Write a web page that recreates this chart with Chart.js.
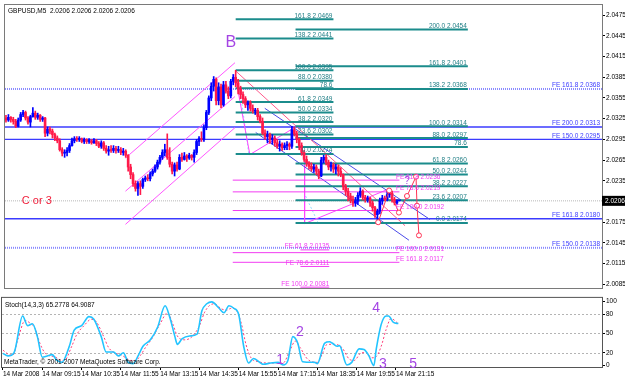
<!DOCTYPE html>
<html>
<head>
<meta charset="utf-8">
<script src="https://cdn.jsdelivr.net/npm/chart.js@4.4.1/dist/chart.umd.min.js"></script>
<style>
  html, body { margin: 0; padding: 0; background: #fff; }
  #wrap { position: relative; width: 625px; height: 380px; overflow: hidden; }
  canvas { position: absolute; left: 0; }
  #price { top: 0; }
  #stoch { top: 293px; }
</style>
</head>
<body>
<div id="wrap">
  <canvas id="price" width="625" height="293"></canvas>
  <canvas id="stoch" width="625" height="87"></canvas>
</div>
<script>
// GBPUSD M5 candles, one entry per bar
const barOpen = [
  2.0326, 2.0323, 2.0327, 2.0324, 2.0321, 2.0314, 2.0323, 2.0331, 2.0334, 2.0326,
  2.0320, 2.0328, 2.0333, 2.0327, 2.0330, 2.0324, 2.0326, 2.0304, 2.0310, 2.0307,
  2.0302, 2.0297, 2.0293, 2.0280, 2.0275, 2.0276, 2.0279, 2.0286, 2.0293, 2.0296,
  2.0295, 2.0296, 2.0292, 2.0295, 2.0292, 2.0293, 2.0290, 2.0293, 2.0289, 2.0285,
  2.0290, 2.0282, 2.0278, 2.0280, 2.0279, 2.0282, 2.0279, 2.0280, 2.0276, 2.0278,
  2.0272, 2.0255, 2.0244, 2.0231, 2.0224, 2.0231, 2.0227, 2.0237, 2.0239, 2.0238,
  2.0245, 2.0249, 2.0255, 2.0262, 2.0269, 2.0276, 2.0280, 2.0269, 2.0259, 2.0249,
  2.0258, 2.0252, 2.0269, 2.0266, 2.0271, 2.0268, 2.0272, 2.0269, 2.0276, 2.0292,
  2.0296, 2.0295, 2.0312, 2.0334, 2.0355, 2.0372, 2.0382, 2.0351, 2.0371, 2.0345,
  2.0374, 2.0365, 2.0358, 2.0379, 2.0385, 2.0377, 2.0368, 2.0360, 2.0354, 2.0345,
  2.0348, 2.0340, 2.0336, 2.0337, 2.0328, 2.0321, 2.0304, 2.0299, 2.0302, 2.0295,
  2.0297, 2.0290, 2.0285, 2.0288, 2.0283, 2.0286, 2.0288, 2.0285, 2.0309, 2.0303,
  2.0295, 2.0286, 2.0276, 2.0266, 2.0261, 2.0256, 2.0252, 2.0255, 2.0249, 2.0242,
  2.0265, 2.0269, 2.0262, 2.0255, 2.0258, 2.0252, 2.0255, 2.0249, 2.0244, 2.0227,
  2.0220, 2.0213, 2.0208, 2.0203, 2.0206, 2.0214, 2.0220, 2.0211, 2.0208, 2.0210,
  2.0203, 2.0196, 2.0186, 2.0191, 2.0206, 2.0210, 2.0208, 2.0215, 2.0217, 2.0208,
  2.0203, 2.0206
];
const barHigh = [
  2.0330, 2.0331, 2.0328, 2.0327, 2.0324, 2.0326, 2.0334, 2.0337, 2.0336, 2.0328,
  2.0330, 2.0341, 2.0336, 2.0333, 2.0331, 2.0328, 2.0327, 2.0313, 2.0313, 2.0310,
  2.0304, 2.0300, 2.0296, 2.0283, 2.0280, 2.0283, 2.0289, 2.0297, 2.0299, 2.0299,
  2.0299, 2.0297, 2.0297, 2.0296, 2.0296, 2.0295, 2.0296, 2.0295, 2.0292, 2.0293,
  2.0292, 2.0286, 2.0285, 2.0286, 2.0286, 2.0285, 2.0285, 2.0283, 2.0282, 2.0280,
  2.0273, 2.0259, 2.0247, 2.0235, 2.0234, 2.0235, 2.0239, 2.0242, 2.0244, 2.0248,
  2.0252, 2.0258, 2.0265, 2.0272, 2.0280, 2.0288, 2.0303, 2.0283, 2.0262, 2.0261,
  2.0262, 2.0273, 2.0275, 2.0276, 2.0273, 2.0275, 2.0273, 2.0280, 2.0295, 2.0299,
  2.0306, 2.0316, 2.0337, 2.0358, 2.0377, 2.0386, 2.0384, 2.0377, 2.0375, 2.0379,
  2.0379, 2.0371, 2.0382, 2.0389, 2.0395, 2.0382, 2.0372, 2.0364, 2.0357, 2.0351,
  2.0351, 2.0345, 2.0340, 2.0340, 2.0331, 2.0326, 2.0309, 2.0307, 2.0304, 2.0302,
  2.0300, 2.0295, 2.0293, 2.0290, 2.0290, 2.0292, 2.0290, 2.0314, 2.0313, 2.0307,
  2.0297, 2.0290, 2.0279, 2.0271, 2.0263, 2.0261, 2.0259, 2.0258, 2.0252, 2.0269,
  2.0272, 2.0273, 2.0265, 2.0262, 2.0261, 2.0259, 2.0258, 2.0254, 2.0245, 2.0230,
  2.0224, 2.0217, 2.0213, 2.0211, 2.0218, 2.0225, 2.0222, 2.0214, 2.0213, 2.0211,
  2.0206, 2.0198, 2.0194, 2.0210, 2.0214, 2.0213, 2.0220, 2.0221, 2.0220, 2.0211,
  2.0208, 2.0206
];
const barLow = [
  2.0320, 2.0321, 2.0320, 2.0317, 2.0312, 2.0313, 2.0321, 2.0328, 2.0323, 2.0317,
  2.0313, 2.0327, 2.0324, 2.0324, 2.0321, 2.0321, 2.0299, 2.0300, 2.0303, 2.0297,
  2.0293, 2.0290, 2.0278, 2.0271, 2.0269, 2.0271, 2.0276, 2.0285, 2.0290, 2.0292,
  2.0292, 2.0290, 2.0289, 2.0289, 2.0289, 2.0288, 2.0289, 2.0286, 2.0283, 2.0282,
  2.0279, 2.0275, 2.0272, 2.0276, 2.0276, 2.0275, 2.0276, 2.0273, 2.0272, 2.0269,
  2.0249, 2.0238, 2.0227, 2.0220, 2.0214, 2.0215, 2.0224, 2.0234, 2.0235, 2.0235,
  2.0242, 2.0247, 2.0252, 2.0259, 2.0266, 2.0271, 2.0266, 2.0255, 2.0245, 2.0242,
  2.0249, 2.0251, 2.0263, 2.0265, 2.0263, 2.0266, 2.0265, 2.0262, 2.0273, 2.0286,
  2.0292, 2.0292, 2.0309, 2.0331, 2.0351, 2.0365, 2.0345, 2.0345, 2.0341, 2.0343,
  2.0362, 2.0354, 2.0355, 2.0374, 2.0371, 2.0361, 2.0354, 2.0347, 2.0341, 2.0337,
  2.0336, 2.0333, 2.0331, 2.0323, 2.0319, 2.0302, 2.0295, 2.0290, 2.0289, 2.0288,
  2.0285, 2.0282, 2.0278, 2.0279, 2.0280, 2.0280, 2.0280, 2.0282, 2.0300, 2.0290,
  2.0280, 2.0272, 2.0263, 2.0256, 2.0252, 2.0249, 2.0247, 2.0244, 2.0238, 2.0241,
  2.0261, 2.0258, 2.0251, 2.0249, 2.0247, 2.0245, 2.0242, 2.0241, 2.0222, 2.0214,
  2.0206, 2.0203, 2.0198, 2.0198, 2.0201, 2.0211, 2.0207, 2.0204, 2.0204, 2.0198,
  2.0191, 2.0182, 2.0174, 2.0187, 2.0201, 2.0206, 2.0206, 2.0211, 2.0204, 2.0200,
  2.0201, 2.0206
];
const barClose = [
  2.0323, 2.0327, 2.0324, 2.0321, 2.0314, 2.0323, 2.0331, 2.0334, 2.0326, 2.0320,
  2.0328, 2.0333, 2.0327, 2.0330, 2.0324, 2.0326, 2.0304, 2.0310, 2.0307, 2.0302,
  2.0297, 2.0293, 2.0280, 2.0275, 2.0276, 2.0279, 2.0286, 2.0293, 2.0296, 2.0295,
  2.0296, 2.0292, 2.0295, 2.0292, 2.0293, 2.0290, 2.0293, 2.0289, 2.0285, 2.0290,
  2.0282, 2.0278, 2.0280, 2.0279, 2.0282, 2.0279, 2.0280, 2.0276, 2.0278, 2.0272,
  2.0255, 2.0244, 2.0231, 2.0224, 2.0231, 2.0227, 2.0237, 2.0239, 2.0238, 2.0245,
  2.0249, 2.0255, 2.0262, 2.0269, 2.0276, 2.0280, 2.0269, 2.0259, 2.0249, 2.0258,
  2.0252, 2.0269, 2.0266, 2.0271, 2.0268, 2.0272, 2.0269, 2.0276, 2.0292, 2.0296,
  2.0295, 2.0312, 2.0334, 2.0355, 2.0372, 2.0382, 2.0351, 2.0371, 2.0345, 2.0374,
  2.0365, 2.0358, 2.0379, 2.0385, 2.0377, 2.0368, 2.0360, 2.0354, 2.0345, 2.0348,
  2.0340, 2.0336, 2.0337, 2.0328, 2.0321, 2.0304, 2.0299, 2.0302, 2.0295, 2.0297,
  2.0290, 2.0285, 2.0288, 2.0283, 2.0286, 2.0288, 2.0285, 2.0309, 2.0303, 2.0295,
  2.0286, 2.0276, 2.0266, 2.0261, 2.0256, 2.0252, 2.0255, 2.0249, 2.0242, 2.0265,
  2.0269, 2.0262, 2.0255, 2.0258, 2.0252, 2.0255, 2.0249, 2.0244, 2.0227, 2.0220,
  2.0213, 2.0208, 2.0203, 2.0206, 2.0214, 2.0220, 2.0211, 2.0208, 2.0210, 2.0203,
  2.0196, 2.0186, 2.0191, 2.0206, 2.0210, 2.0208, 2.0215, 2.0217, 2.0208, 2.0203,
  2.0206, 2.0206
];
const bidPrice = 2.0206;

// axis ticks
const priceTicks = [2.0085, 2.0115, 2.0145, 2.0175, 2.0205, 2.0235, 2.0265, 2.0295,
  2.0325, 2.0355, 2.0385, 2.0415, 2.0445, 2.0475];
const timeTickBars = [0, 16, 32, 48, 64, 80, 96, 112, 128, 144, 160];
const timeLabels = ['14 Mar 2008', '14 Mar 09:15', '14 Mar 10:35', '14 Mar 11:55', '14 Mar 13:15',
  '14 Mar 14:35', '14 Mar 15:55', '14 Mar 17:15', '14 Mar 18:35', '14 Mar 19:55', '14 Mar 21:15'];
const stochTicks = [0, 20, 50, 80, 100];

// Stochastic(14,3,3)
const stochMainBars = [0, 2, 4.5, 8, 10, 12, 14, 16, 18, 20, 22, 24, 27, 29, 32, 35, 37, 40, 42, 45,
  47, 49, 51, 53, 55, 57, 60, 63, 66, 68, 70, 71, 73, 76, 79, 81, 83, 85, 88, 90,
  92, 94, 96, 98, 100, 102, 106, 109, 112, 114, 116, 118, 120, 122, 127, 128, 131, 133, 134, 136,
  137, 140, 142, 145, 147, 149, 151, 152, 154, 156, 157, 159, 161];
const stochMain = [19, 15, 20, 77, 62, 65, 45, 13, 15, 17, 8, 5, 30, 55, 62, 76, 72, 45, 21, 21,
  15, 20, 5, 3, 15, 30, 40, 60, 93, 74, 45, 33, 42, 46, 49, 85, 96, 99, 89, 82,
  93, 89, 79, 30, 4, 11, 2, 4, 5, 1, 8, 45, 35, 6, 5, 3, 35, 37, 35, 30,
  31, 1, 5, 26, 25, 15, 0, 26, 64, 77, 77, 67, 65.2778];
const stochSignalBars = [0, 2, 4, 6, 9, 11, 13, 15, 17, 19, 21, 23, 25, 28, 30, 33, 36, 38, 41, 43,
  46, 48, 50, 52, 54, 56, 58, 61, 64, 67, 69, 71, 74, 77, 80, 82, 84, 86, 89, 91,
  93, 95, 97, 99, 101, 104, 108, 111, 114, 117, 119, 121, 124, 128, 130, 132, 135, 138, 141, 143,
  146, 148, 150, 152, 154, 156, 158, 161];
const stochSignal = [24, 18, 16, 40, 70, 66, 58, 35, 20, 15, 14, 9, 8, 30, 48, 62, 72, 68, 45, 28,
  19, 17, 12, 8, 8, 16, 28, 44, 65, 82, 66, 46, 40, 45, 62, 82, 93, 96, 88, 86,
  89, 86, 66, 32, 12, 6, 4, 4, 4, 25, 38, 28, 10, 5, 18, 33, 33, 28, 10, 8,
  20, 20, 12, 14, 30, 56, 73, 64.9087];

// Fibonacci retracements (teal)
const fibALabels = ['161.8 2.0469', '138.2 2.0441', '100.0 2.0395', '88.0 2.0380', '78.6',
  '61.8 2.0349', '50.0 2.0334', '38.2 2.0320', '23.6 2.0302', '0.0 2.0274'];
const fibAPrices = [2.0469, 2.0441, 2.0395, 2.0380, 2.0369, 2.0349, 2.0334, 2.0320, 2.0302, 2.0274];
const fibABars = [94, 134];
const fibBLabels = ['200.0 2.0454', '161.8 2.0401', '138.2 2.0368', '100.0 2.0314', '88.0 2.0297',
  '78.6', '61.8 2.0260', '50.0 2.0244', '38.2 2.0227', '23.6 2.0207', '0.0 2.0174'];
const fibBPrices = [2.0454, 2.0401, 2.0368, 2.0314, 2.0297, 2.0284, 2.0260, 2.0244, 2.0227, 2.0207, 2.0174];
const fibBBars = [118.5, 189];

// Fibonacci expansions
const feBlueLabels = ['FE 161.8 2.0368', 'FE 200.0 2.0313', 'FE 150.0 2.0295', 'FE 161.8 2.0180', 'FE 150.0 2.0138'];
const feBluePrices = [2.0368, 2.0313, 2.0295, 2.0180, 2.0138];
const feMagLabels = ['FE 61.8 2.0236', 'FE 78.6 2.0219', 'FE 100.0 2.0192', 'FE 100.0 2.0131', 'FE 161.8 2.0117'];
const feMagPrices = [2.0236, 2.0219, 2.0192, 2.0131, 2.0117];
const feMagBars = [92.8, 161, 159.6];
const feShortLabels = ['FE 61.8 2.0135', 'FE 78.6 2.0111', 'FE 100.0 2.0081'];
const feShortPrices = [2.0135, 2.0111, 2.0081];
const feShortBars = [120.5, 132.3];

// trend lines [bar1, price1, bar2, price2]
const risingChannel = [[48.9, 2.0268, 93.7, 2.0406], [48.9, 2.0220, 93.7, 2.0357], [48.9, 2.0172, 93.7, 2.0312]];
const fallingPink = [93.7, 2.0395, 163.3, 2.0170];
const fallingBlue = [[105.9, 2.0340, 173.5, 2.0179], [102.2, 2.0305, 164.9, 2.0149]];
const feLegBars = [93.7, 99.8, 118.5];
const feLegPrices = [2.0389, 2.0273, 2.0313];
const feLeg2Bars = [122.2, 122.2, 157.2];
const feLeg2Prices = [2.0266, 2.0173, 2.0224];
const arcLines = [[96.1, 2.0358, 99.4, 2.0273], [122.6, 2.0213, 127.9, 2.0173]];
const pathBars = [152.3, 156.8, 160.8, 164.1, 167.8, 168.2, 169.0];
const pathPrices = [2.0175, 2.0221, 2.0189, 2.0213, 2.0241, 2.0199, 2.0156];

// wave marks
const waveTexts = ['1', '2', '4', '3', '5'];
const waveBars = [112.8, 120.9, 151.9, 154.7, 167];
const waveValues = [8, 52, 89, 2, 2];

const xMin = -0.4, xMax = 243.9;
const FONT = '"Liberation Sans", Arial, sans-serif';
const BULL = '#0000ff', BEAR = '#ff1a4a';
const TEAL = '#1b8c8c', BLUE = '#3b3bff', MAGENTA = '#f23cf2', PURPLE = '#a444e4';

function pts(bars, vals) { return bars.map((b, i) => ({ x: b, y: vals[i] })); }
function seg(s) { return [{ x: s[0], y: s[1] }, { x: s[2], y: s[3] }]; }
function lineDs(data, color, width, dash, order) {
  return { type: 'line', data, borderColor: color, borderWidth: width, borderDash: dash || [],
    pointRadius: 0, fill: false, tension: 0, order: order };
}
function txt(ctx, s, x, y, color, size, align, base) {
  ctx.font = size + 'px ' + FONT;
  ctx.fillStyle = color;
  ctx.textAlign = align || 'left';
  ctx.textBaseline = base || 'alphabetic';
  ctx.fillText(s, x, y);
}

const datasets = [];
datasets.push({
  type: 'line', data: pts(pathBars, pathPrices), borderColor: '#ff3355', borderWidth: 1,
  pointRadius: 2.5, pointBorderColor: '#ff3355', pointBackgroundColor: '#ffffff', tension: 0, order: 0
});
datasets.push({
  type: 'bar', data: barClose.map((c, i) => ({ x: i, y: [barOpen[i], c] })),
  backgroundColor: barClose.map((c, i) => (c >= barOpen[i] ? BULL : BEAR)),
  barThickness: 2, minBarLength: 1, grouped: false, order: 1
});
datasets.push({
  type: 'bar', data: barClose.map((c, i) => ({ x: i, y: [barLow[i], barHigh[i]] })),
  backgroundColor: barClose.map((c, i) => (c >= barOpen[i] ? BULL : BEAR)),
  barThickness: 1, grouped: false, order: 2
});
fibAPrices.forEach(p => datasets.push(lineDs([{ x: fibABars[0], y: p }, { x: fibABars[1], y: p }], TEAL, 2, [], 3)));
fibBPrices.forEach(p => datasets.push(lineDs([{ x: fibBBars[0], y: p }, { x: fibBBars[1], y: p }], TEAL, 2, [], 3)));
feMagPrices.forEach(p => datasets.push(lineDs([{ x: feMagBars[0], y: p }, { x: feMagBars[1], y: p }], MAGENTA, 1, [], 3)));
feShortPrices.forEach(p => datasets.push(lineDs([{ x: feShortBars[0], y: p }, { x: feShortBars[1], y: p }], MAGENTA, 1, [], 3)));
risingChannel.forEach(s => datasets.push(lineDs(seg(s), '#ff55ff', 1, [], 3)));
datasets.push(lineDs(seg(fallingPink), '#ff5a8c', 1, [], 3));
fallingBlue.forEach(s => datasets.push(lineDs(seg(s), '#4a4ae8', 1, [], 3)));
datasets.push(lineDs(pts(feLegBars, feLegPrices), '#ff44ff', 1, [], 3));
datasets.push(lineDs(pts(feLeg2Bars, feLeg2Prices), '#ff44ff', 1, [], 3));
arcLines.forEach(s => datasets.push(lineDs(seg(s), '#8fdcff', 1, [2, 2], 3)));
feBluePrices.forEach((p, k) => datasets.push(lineDs([{ x: xMin, y: p }, { x: xMax, y: p }],
  (k === 0 || k === 4) ? '#8a8aff' : BLUE, (k === 0 || k === 4) ? 2 : 1.4, (k === 0 || k === 4) ? [1, 1] : [], 4)));
datasets.push(lineDs([{ x: xMin, y: bidPrice }, { x: xMax, y: bidPrice }], '#b8b8b8', 1, [1, 1], 4));

const priceDecor = {
  id: 'priceDecor',
  afterDatasetsDraw(chart) {
    const { ctx, chartArea: a } = chart;
    const xs = chart.scales.x, ys = chart.scales.y;
    ctx.save();
    ctx.beginPath();
    ctx.rect(a.left, a.top, a.right - a.left, a.bottom - a.top);
    ctx.clip();
    fibALabels.forEach((s, k) => txt(ctx, s, xs.getPixelForValue(fibABars[1]) - 1, ys.getPixelForValue(fibAPrices[k]) - 1.5, '#217f86', 6.5, 'right'));
    fibBLabels.forEach((s, k) => txt(ctx, s, xs.getPixelForValue(fibBBars[1]) - 1, ys.getPixelForValue(fibBPrices[k]) - 1.5, '#217f86', 6.5, 'right'));
    feBlueLabels.forEach((s, k) => txt(ctx, s, a.right - 2, ys.getPixelForValue(feBluePrices[k]) - 1.5, BLUE, 6.5, 'right'));
    feMagLabels.forEach((s, k) => txt(ctx, s, xs.getPixelForValue(feMagBars[2]), ys.getPixelForValue(feMagPrices[k]) - 1.5, MAGENTA, 6.5, 'left'));
    feShortLabels.forEach((s, k) => txt(ctx, s, xs.getPixelForValue(feShortBars[1]), Math.min(ys.getPixelForValue(feShortPrices[k]) - 1.5, a.bottom - 1), MAGENTA, 6.5, 'right'));
    txt(ctx, 'B', xs.getPixelForValue(92), ys.getPixelForValue(2.04345), PURPLE, 16, 'center', 'middle');
    txt(ctx, 'C or 3', xs.getPixelForValue(12.6), ys.getPixelForValue(2.0206), '#f0203c', 11, 'center', 'middle');
    txt(ctx, '?', xs.getPixelForValue(164.1), ys.getPixelForValue(2.0234), PURPLE, 10, 'center', 'middle');
    ctx.restore();
    txt(ctx, 'GBPUSD,M5  2.0206 2.0206 2.0206 2.0206', a.left + 3, a.top + 6, '#000', 6.5, 'left', 'middle');
  },
  afterDraw(chart) {
    const { ctx, chartArea: a } = chart;
    const yb = chart.scales.y.getPixelForValue(bidPrice);
    ctx.save();
    ctx.strokeStyle = '#7a7a7a';
    ctx.lineWidth = 1;
    ctx.strokeRect(a.left - 0.5, a.top - 0.5, a.right - a.left + 1, a.bottom - a.top + 1);
    ctx.fillStyle = '#000';
    ctx.fillRect(a.right, yb - 5, 23, 10);
    txt(ctx, bidPrice.toFixed(4), a.right + 3, yb + 0.5, '#fff', 6.5, 'left', 'middle');
    ctx.restore();
  }
};

new Chart(document.getElementById('price'), {
  type: 'line',
  data: { datasets },
  options: {
    responsive: false, animation: false, devicePixelRatio: 1,
    layout: { padding: { left: 2, top: 2, right: 0, bottom: 1 } },
    plugins: { legend: { display: false }, tooltip: { enabled: false } },
    scales: {
      x: { type: 'linear', min: xMin, max: xMax, offset: false, display: false, grid: { offset: false } },
      y: {
        type: 'linear', position: 'right', min: 2.00798, max: 2.04896,
        afterFit: s => { s.width = 23; },
        afterBuildTicks: s => { s.ticks = priceTicks.map(v => ({ value: v })); },
        grid: { drawOnChartArea: false, drawTicks: true, tickLength: 3, color: '#000' },
        border: { display: true, color: '#000' },
        ticks: { autoSkip: false, padding: 1, color: '#000', font: { size: 6.5, family: FONT },
          callback: v => Number(v).toFixed(4) }
      }
    }
  },
  plugins: [priceDecor]
});

const stochDecor = {
  id: 'stochDecor',
  beforeDatasetsDraw(chart) {
    const { ctx, chartArea: a } = chart;
    const ys = chart.scales.y;
    ctx.save();
    ctx.strokeStyle = '#b4b4b4';
    ctx.setLineDash([2, 2]);
    [20, 50, 80].forEach(v => {
      const y = Math.round(ys.getPixelForValue(v)) + 0.5;
      ctx.beginPath(); ctx.moveTo(a.left, y); ctx.lineTo(a.right, y); ctx.stroke();
    });
    ctx.restore();
  },
  afterDraw(chart) {
    const { ctx, chartArea: a } = chart;
    const xs = chart.scales.x, ys = chart.scales.y;
    ctx.save();
    ctx.strokeStyle = '#555';
    ctx.strokeRect(a.left - 0.5, a.top - 0.5, a.right - a.left + 1, a.bottom - a.top + 1);
    txt(ctx, 'Stoch(14,3,3) 65.2778 64.9087', a.left + 3, a.top + 7, '#000', 6.5, 'left', 'middle');
    txt(ctx, 'MetaTrader, \u00a9 2001-2007 MetaQuotes Software Corp.', a.left + 2, a.bottom - 2, '#000', 6.5, 'left', 'bottom');
    waveTexts.forEach((s, k) => txt(ctx, s, xs.getPixelForValue(waveBars[k]), ys.getPixelForValue(waveValues[k]), PURPLE, 14, 'center', 'middle'));
    ctx.restore();
  }
};

new Chart(document.getElementById('stoch'), {
  type: 'line',
  data: {
    datasets: [
      { data: pts(stochMainBars, stochMain), borderColor: '#22c4ff', borderWidth: 1.6, pointRadius: 0,
        cubicInterpolationMode: 'monotone', order: 0 },
      { data: pts(stochSignalBars, stochSignal), borderColor: '#ff3a78', borderWidth: 1, borderDash: [2, 2],
        pointRadius: 0, cubicInterpolationMode: 'monotone', order: 1 }
    ]
  },
  options: {
    responsive: false, animation: false, devicePixelRatio: 1,
    layout: { padding: { left: 2, top: 1, right: 0, bottom: 0 } },
    plugins: { legend: { display: false }, tooltip: { enabled: false } },
    scales: {
      x: {
        type: 'linear', min: xMin, max: xMax, offset: false,
        afterFit: s => { s.height = 13; },
        afterBuildTicks: s => { s.ticks = timeTickBars.map(v => ({ value: v })); },
        grid: { drawOnChartArea: false, drawTicks: true, tickLength: 3, color: '#000' },
        border: { display: false },
        ticks: { autoSkip: false, maxRotation: 0, minRotation: 0, align: 'start', padding: 0,
          color: '#000', font: { size: 6.5, family: FONT }, callback: (v, i) => timeLabels[i] }
      },
      y: {
        type: 'linear', position: 'right', min: -2.2, max: 105.1,
        afterFit: s => { s.width = 23; },
        afterBuildTicks: s => { s.ticks = stochTicks.map(v => ({ value: v })); },
        grid: { drawOnChartArea: false, drawTicks: true, tickLength: 3, color: '#000' },
        border: { display: true, color: '#000' },
        ticks: { autoSkip: false, padding: 1, color: '#000', font: { size: 6.5, family: FONT } }
      }
    }
  },
  plugins: [stochDecor]
});
</script>
</body>
</html>
